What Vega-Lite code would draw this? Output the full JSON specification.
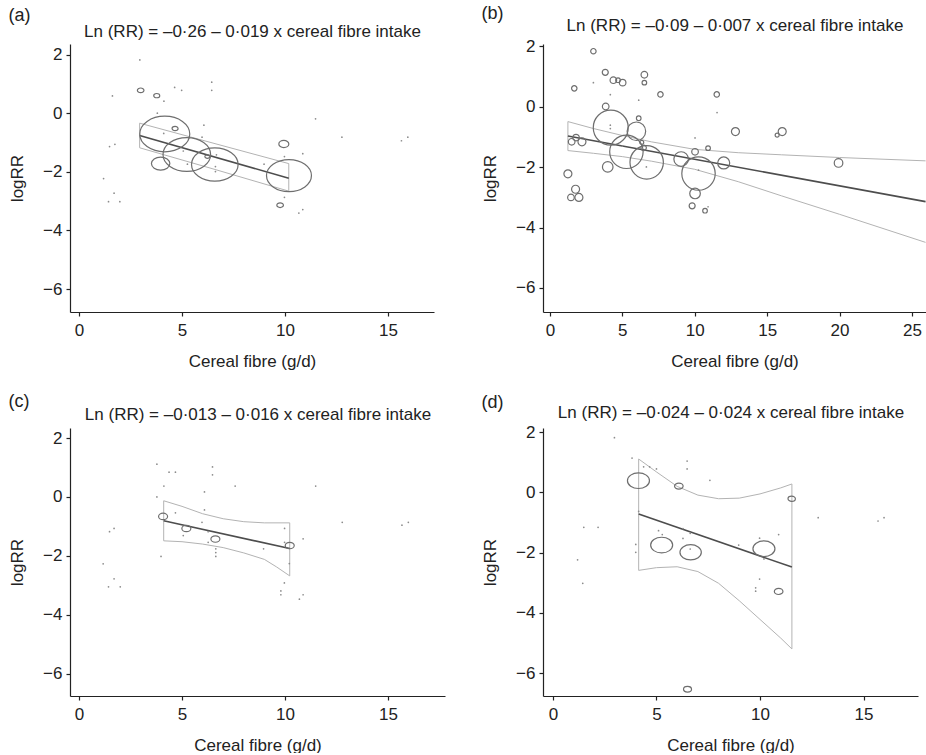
{
  "$schema": "https://vega.github.io/schema/vega-lite/v6.json",
  "background": "white",
  "padding": {"left": 8, "top": 5, "right": 0, "bottom": 0},
  "columns": 2,
  "bounds": "flush",
  "align": "all",
  "spacing": {"row": 116, "column": 90},
  "datasets": {
    "a_pts": [
      {"x": 2.99, "y": 0.78, "w": 0.78}, {"x": 3.77, "y": 0.6, "w": 0.65}, {"x": 4.16, "y": -0.71, "w": 44.9},
      {"x": 4.66, "y": -0.52, "w": 0.65}, {"x": 5.23, "y": -1.41, "w": 40.7}, {"x": 3.96, "y": -1.72, "w": 6.1},
      {"x": 6.23, "y": -1.48, "w": 0.45}, {"x": 6.59, "y": -1.75, "w": 39}, {"x": 10.19, "y": -2.13, "w": 36.3},
      {"x": 9.94, "y": -1.05, "w": 1.8}, {"x": 9.76, "y": -3.14, "w": 0.78}
    ],
    "a_dots": [
      {"x": 2.95, "y": 1.82}, {"x": 1.62, "y": 0.59}, {"x": 4.64, "y": 0.88}, {"x": 4.98, "y": 0.78}, {"x": 6.44, "y": 1.06},
      {"x": 6.44, "y": 0.78}, {"x": 4.12, "y": 0.41}, {"x": 3.8, "y": 0}, {"x": 11.48, "y": -0.19}, {"x": 12.76, "y": -0.82},
      {"x": 15.65, "y": -0.94}, {"x": 15.96, "y": -0.82}, {"x": 1.48, "y": -1.14}, {"x": 1.74, "y": -1.06}, {"x": 1.19, "y": -2.23},
      {"x": 1.7, "y": -2.73}, {"x": 1.43, "y": -3.02}, {"x": 1.98, "y": -3.02}, {"x": 6.06, "y": -0.41}, {"x": 5.97, "y": -0.82},
      {"x": 4.11, "y": -0.69}, {"x": 5.06, "y": -1.29}, {"x": 5.26, "y": -1.74}, {"x": 6.62, "y": -1.82}, {"x": 6.62, "y": -1.99},
      {"x": 6.67, "y": -1.42}, {"x": 8.98, "y": -1.74}, {"x": 9.97, "y": -1.48}, {"x": 10.86, "y": -1.38}, {"x": 9.97, "y": -2.87},
      {"x": 10.86, "y": -3.29}, {"x": 10.67, "y": -3.41}
    ],
    "a_fit": [{"x": 2.94, "y": -0.76}, {"x": 10.18, "y": -2.22}],
    "a_band": [
      {"i": 1, "x": 2.94, "y": -0.34}, {"i": 2, "x": 6.5, "y": -1.02}, {"i": 3, "x": 10.18, "y": -1.72},
      {"i": 4, "x": 10.18, "y": -2.66}, {"i": 5, "x": 6.5, "y": -1.9}, {"i": 6, "x": 2.94, "y": -1.18},
      {"i": 7, "x": 2.94, "y": -0.34}
    ],
    "b_pts": [
      {"x": 3.0, "y": 1.84, "w": 0.73}, {"x": 3.82, "y": 1.14, "w": 0.9}, {"x": 4.38, "y": 0.88, "w": 1.09}, {"x": 4.7, "y": 0.88, "w": 0.53},
      {"x": 5.02, "y": 0.8, "w": 1.09}, {"x": 6.52, "y": 1.06, "w": 1.09}, {"x": 6.52, "y": 0.8, "w": 0.53}, {"x": 7.63, "y": 0.41, "w": 0.73},
      {"x": 11.52, "y": 0.41, "w": 0.73}, {"x": 1.68, "y": 0.61, "w": 0.73}, {"x": 3.85, "y": 0.01, "w": 1.09}, {"x": 4.2, "y": -0.69, "w": 30.6},
      {"x": 5.97, "y": -0.81, "w": 8.6}, {"x": 6.13, "y": -0.38, "w": 0.53}, {"x": 5.28, "y": -1.49, "w": 27.9}, {"x": 6.68, "y": -1.84, "w": 27.9},
      {"x": 6.34, "y": -1.18, "w": 0.4}, {"x": 6.47, "y": -1.36, "w": 0.73}, {"x": 1.8, "y": -1.02, "w": 1.09}, {"x": 1.5, "y": -1.16, "w": 1.09},
      {"x": 2.21, "y": -1.16, "w": 1.6}, {"x": 1.24, "y": -2.22, "w": 1.6}, {"x": 1.77, "y": -2.73, "w": 1.6}, {"x": 1.45, "y": -3.0, "w": 1.09},
      {"x": 2.0, "y": -3.0, "w": 1.6}, {"x": 3.99, "y": -1.99, "w": 2.8}, {"x": 9.06, "y": -1.73, "w": 5.3}, {"x": 10.02, "y": -1.49, "w": 1.09},
      {"x": 10.26, "y": -2.21, "w": 27.9}, {"x": 10.02, "y": -2.87, "w": 2.8}, {"x": 9.82, "y": -3.28, "w": 0.9}, {"x": 10.71, "y": -3.44, "w": 0.53},
      {"x": 10.92, "y": -1.37, "w": 0.53}, {"x": 12.0, "y": -1.86, "w": 3.6}, {"x": 12.81, "y": -0.82, "w": 1.6}, {"x": 15.69, "y": -0.94, "w": 0.4},
      {"x": 16.04, "y": -0.82, "w": 1.6}, {"x": 19.93, "y": -1.86, "w": 1.85}
    ],
    "b_dots": [
      {"x": 3.0, "y": 0.8}, {"x": 4.17, "y": 0.4}, {"x": 6.13, "y": 0.22}, {"x": 11.54, "y": -0.19}, {"x": 4.17, "y": -0.61},
      {"x": 4.17, "y": -0.72}, {"x": 10.02, "y": -1.03}, {"x": 6.66, "y": -1.99}, {"x": 10.26, "y": -2.1}, {"x": 10.92, "y": -3.31},
      {"x": 5.0, "y": -1.3}
    ],
    "b_fit": [{"x": 1.24, "y": -0.97}, {"x": 25.94, "y": -3.14}],
    "b_band": [
      {"i": 1, "x": 25.94, "y": -1.79}, {"i": 2, "x": 20, "y": -1.68}, {"i": 3, "x": 16, "y": -1.59}, {"i": 4, "x": 13, "y": -1.52},
      {"i": 5, "x": 10, "y": -1.41}, {"i": 6, "x": 7, "y": -1.16}, {"i": 7, "x": 5, "y": -0.95}, {"i": 8, "x": 3, "y": -0.72},
      {"i": 9, "x": 1.24, "y": -0.49}, {"i": 10, "x": 1.24, "y": -1.45}, {"i": 11, "x": 3, "y": -1.54}, {"i": 12, "x": 5, "y": -1.65},
      {"i": 13, "x": 7, "y": -1.8}, {"i": 14, "x": 10, "y": -2.07}, {"i": 15, "x": 13, "y": -2.48}, {"i": 16, "x": 16, "y": -2.95},
      {"i": 17, "x": 20, "y": -3.56}, {"i": 18, "x": 25.94, "y": -4.49}
    ],
    "c_pts": [
      {"x": 4.08, "y": -0.66, "w": 1.45}, {"x": 5.21, "y": -1.07, "w": 1.45}, {"x": 6.62, "y": -1.43, "w": 1.45}, {"x": 10.23, "y": -1.65, "w": 1.45}
    ],
    "c_dots": [
      {"x": 3.78, "y": 1.11}, {"x": 4.37, "y": 0.84}, {"x": 4.68, "y": 0.84}, {"x": 6.48, "y": 1.02}, {"x": 6.48, "y": 0.75},
      {"x": 4.12, "y": 0.37}, {"x": 7.58, "y": 0.37}, {"x": 11.49, "y": 0.37}, {"x": 6.09, "y": 0.17}, {"x": 3.78, "y": 0},
      {"x": 6.09, "y": -0.44}, {"x": 4.68, "y": -0.54}, {"x": 5.97, "y": -0.86}, {"x": 12.78, "y": -0.86}, {"x": 15.68, "y": -0.96},
      {"x": 15.99, "y": -0.86}, {"x": 1.48, "y": -1.18}, {"x": 1.7, "y": -1.07}, {"x": 9.98, "y": -1.07}, {"x": 6.27, "y": -1.18},
      {"x": 5.06, "y": -1.31}, {"x": 6.27, "y": -1.54}, {"x": 6.64, "y": -1.76}, {"x": 6.64, "y": -1.89}, {"x": 6.64, "y": -2.02},
      {"x": 8.96, "y": -1.76}, {"x": 10.88, "y": -1.42}, {"x": 9.98, "y": -1.54}, {"x": 3.98, "y": -2.02}, {"x": 1.17, "y": -2.27},
      {"x": 1.7, "y": -2.78}, {"x": 1.43, "y": -3.05}, {"x": 2.0, "y": -3.05}, {"x": 9.97, "y": -2.92}, {"x": 9.8, "y": -3.19},
      {"x": 9.8, "y": -3.32}, {"x": 10.7, "y": -3.47}, {"x": 10.88, "y": -3.32}, {"x": 10.21, "y": -2.26}
    ],
    "c_fit": [{"x": 4.11, "y": -0.81}, {"x": 10.23, "y": -1.75}],
    "c_band": [
      {"i": 1, "x": 4.11, "y": -0.13}, {"i": 2, "x": 5, "y": -0.32}, {"i": 3, "x": 6, "y": -0.57}, {"i": 4, "x": 7, "y": -0.74},
      {"i": 5, "x": 8, "y": -0.84}, {"i": 6, "x": 9, "y": -0.88}, {"i": 7, "x": 10.23, "y": -0.88}, {"i": 8, "x": 10.23, "y": -2.68},
      {"i": 9, "x": 9.6, "y": -2.38}, {"i": 10, "x": 9, "y": -2.12}, {"i": 11, "x": 8, "y": -1.9}, {"i": 12, "x": 7, "y": -1.72},
      {"i": 13, "x": 6, "y": -1.6}, {"i": 14, "x": 5, "y": -1.52}, {"i": 15, "x": 4.11, "y": -1.49}, {"i": 16, "x": 4.11, "y": -0.13}
    ],
    "d_pts": [
      {"x": 4.13, "y": 0.39, "w": 8.7}, {"x": 6.08, "y": 0.21, "w": 1.33}, {"x": 11.53, "y": -0.21, "w": 0.98}, {"x": 5.25, "y": -1.75, "w": 8.7},
      {"x": 6.65, "y": -1.99, "w": 8.2}, {"x": 10.19, "y": -1.87, "w": 8.7}, {"x": 10.9, "y": -3.29, "w": 1.33}, {"x": 6.5, "y": -6.54, "w": 1.15}
    ],
    "d_dots": [
      {"x": 2.97, "y": 1.82}, {"x": 3.82, "y": 1.14}, {"x": 4.38, "y": 0.85}, {"x": 4.67, "y": 0.85}, {"x": 5.0, "y": 0.78},
      {"x": 6.48, "y": 1.04}, {"x": 6.48, "y": 0.78}, {"x": 7.58, "y": 0.4}, {"x": 1.49, "y": -1.16}, {"x": 2.18, "y": -1.16},
      {"x": 1.19, "y": -2.24}, {"x": 1.44, "y": -3.02}, {"x": 12.81, "y": -0.84}, {"x": 15.7, "y": -0.95}, {"x": 15.99, "y": -0.84},
      {"x": 4.14, "y": -0.63}, {"x": 4.0, "y": -1.73}, {"x": 4.0, "y": -1.99}, {"x": 5.1, "y": -1.27}, {"x": 5.28, "y": -1.4},
      {"x": 6.28, "y": -1.2}, {"x": 6.28, "y": -1.53}, {"x": 6.63, "y": -1.36}, {"x": 6.63, "y": -1.88}, {"x": 8.97, "y": -1.75},
      {"x": 9.98, "y": -1.52}, {"x": 10.9, "y": -1.4}, {"x": 9.98, "y": -2.88}, {"x": 9.79, "y": -3.17}, {"x": 9.79, "y": -3.28},
      {"x": 10.19, "y": -2.21}
    ],
    "d_fit": [{"x": 4.14, "y": -0.72}, {"x": 11.54, "y": -2.48}],
    "d_band": [
      {"i": 1, "x": 4.14, "y": 1.11}, {"i": 2, "x": 5, "y": 0.68}, {"i": 3, "x": 6, "y": 0.2}, {"i": 4, "x": 7, "y": -0.09},
      {"i": 5, "x": 8, "y": -0.21}, {"i": 6, "x": 9, "y": -0.19}, {"i": 7, "x": 10, "y": -0.05}, {"i": 8, "x": 11, "y": 0.15},
      {"i": 9, "x": 11.54, "y": 0.28}, {"i": 10, "x": 11.54, "y": -5.2}, {"i": 11, "x": 11, "y": -4.84}, {"i": 12, "x": 10, "y": -4.22},
      {"i": 13, "x": 9, "y": -3.6}, {"i": 14, "x": 8, "y": -3.02}, {"i": 15, "x": 7, "y": -2.63}, {"i": 16, "x": 6, "y": -2.47},
      {"i": 17, "x": 5, "y": -2.5}, {"i": 18, "x": 4.14, "y": -2.59}, {"i": 19, "x": 4.14, "y": 1.11}
    ]
  },
  "concat": [
    {
      "title": {"text": "(a)", "offset": -3},
      "width": 364, "height": 268,
      "resolve": {"axis": {"x": "independent"}},
      "layer": [
        {
          "data": {"name": "a_band"},
          "mark": {"type": "line", "color": "#b3b3b3", "strokeWidth": 1},
          "encoding": {
            "x": {"field": "x", "type": "quantitative", "scale": {"domain": [-0.44, 17.23], "nice": false, "zero": false}, "axis": {"title": "Cereal fibre (g/d)", "values": [0, 5, 10, 15]}},
            "y": {"field": "y", "type": "quantitative", "title": "logRR", "scale": {"domain": [-6.785, 2.362], "nice": false, "zero": false}, "axis": {"values": [-6, -4, -2, 0, 2]}},
            "order": {"field": "i", "type": "quantitative"}
          }
        },
        {
          "data": {"name": "a_fit"},
          "mark": {"type": "line", "color": "#4d4d4d", "strokeWidth": 1.6},
          "encoding": {
            "x": {"field": "x", "type": "quantitative", "axis": {"orient": "top", "title": "Ln (RR) = –0·26 – 0·019 x cereal fibre intake", "domain": false, "ticks": false, "labels": false, "titlePadding": 4}},
            "y": {"field": "y", "type": "quantitative", "title": "logRR"}
          }
        },
        {
          "data": {"name": "a_dots"},
          "mark": {"type": "point", "filled": true, "size": 3, "color": "#8c8c8c", "opacity": 1},
          "encoding": {
            "x": {"field": "x", "type": "quantitative", "axis": null},
            "y": {"field": "y", "type": "quantitative", "title": "logRR"}
          }
        },
        {
          "data": {"name": "a_pts"},
          "mark": {"type": "point", "filled": false, "stroke": "#6e6e6e", "strokeWidth": 1.2, "opacity": 1, "shape": "M-1.18,0C-1.18,-0.464,-0.652,-0.84,0,-0.84C0.652,-0.84,1.18,-0.464,1.18,0C1.18,0.464,0.652,0.84,0,0.84C-0.652,0.84,-1.18,0.464,-1.18,0Z"},
          "encoding": {
            "x": {"field": "x", "type": "quantitative", "axis": null},
            "y": {"field": "y", "type": "quantitative", "title": "logRR"},
            "size": {"field": "w", "type": "quantitative", "scale": {"domain": [0, 100], "range": [0, 4000], "zero": true}, "legend": null}
          }
        }
      ]
    },
    {
      "title": {"text": "(b)", "offset": -7},
      "width": 383, "height": 268,
      "resolve": {"axis": {"x": "independent"}},
      "layer": [
        {
          "data": {"name": "b_band"},
          "mark": {"type": "line", "color": "#b3b3b3", "strokeWidth": 1},
          "encoding": {
            "x": {"field": "x", "type": "quantitative", "scale": {"domain": [-0.48, 25.97], "nice": false, "zero": false}, "axis": {"title": "Cereal fibre (g/d)", "values": [0, 5, 10, 15, 20, 25]}},
            "y": {"field": "y", "type": "quantitative", "title": "logRR", "scale": {"domain": [-6.795, 2.079], "nice": false, "zero": false}, "axis": {"values": [-6, -4, -2, 0, 2]}},
            "order": {"field": "i", "type": "quantitative"}
          }
        },
        {
          "data": {"name": "b_fit"},
          "mark": {"type": "line", "color": "#4d4d4d", "strokeWidth": 1.6},
          "encoding": {
            "x": {"field": "x", "type": "quantitative", "axis": {"orient": "top", "title": "Ln (RR) = –0·09 – 0·007 x cereal fibre intake", "domain": false, "ticks": false, "labels": false, "titlePadding": 10}},
            "y": {"field": "y", "type": "quantitative", "title": "logRR"}
          }
        },
        {
          "data": {"name": "b_dots"},
          "mark": {"type": "point", "filled": true, "size": 3, "color": "#8c8c8c", "opacity": 1},
          "encoding": {
            "x": {"field": "x", "type": "quantitative", "axis": null},
            "y": {"field": "y", "type": "quantitative", "title": "logRR"}
          }
        },
        {
          "data": {"name": "b_pts"},
          "mark": {"type": "point", "filled": false, "stroke": "#6e6e6e", "strokeWidth": 1.2, "opacity": 1, "shape": "circle"},
          "encoding": {
            "x": {"field": "x", "type": "quantitative", "axis": null},
            "y": {"field": "y", "type": "quantitative", "title": "logRR"},
            "size": {"field": "w", "type": "quantitative", "scale": {"domain": [0, 100], "range": [0, 4000], "zero": true}, "legend": null}
          }
        }
      ]
    },
    {
      "title": {"text": "(c)", "offset": -6},
      "width": 375, "height": 268,
      "resolve": {"axis": {"x": "independent"}},
      "layer": [
        {
          "data": {"name": "c_band"},
          "mark": {"type": "line", "color": "#b3b3b3", "strokeWidth": 1},
          "encoding": {
            "x": {"field": "x", "type": "quantitative", "scale": {"domain": [-0.44, 17.77], "nice": false, "zero": false}, "axis": {"title": "Cereal fibre (g/d)", "values": [0, 5, 10, 15]}},
            "y": {"field": "y", "type": "quantitative", "title": "logRR", "scale": {"domain": [-6.757, 2.34], "nice": false, "zero": false}, "axis": {"values": [-6, -4, -2, 0, 2]}},
            "order": {"field": "i", "type": "quantitative"}
          }
        },
        {
          "data": {"name": "c_fit"},
          "mark": {"type": "line", "color": "#4d4d4d", "strokeWidth": 1.6},
          "encoding": {
            "x": {"field": "x", "type": "quantitative", "axis": {"orient": "top", "title": "Ln (RR) = –0·013 – 0·016 x cereal fibre intake", "domain": false, "ticks": false, "labels": false, "titlePadding": 5}},
            "y": {"field": "y", "type": "quantitative", "title": "logRR"}
          }
        },
        {
          "data": {"name": "c_dots"},
          "mark": {"type": "point", "filled": true, "size": 3, "color": "#8c8c8c", "opacity": 1},
          "encoding": {
            "x": {"field": "x", "type": "quantitative", "axis": null},
            "y": {"field": "y", "type": "quantitative", "title": "logRR"}
          }
        },
        {
          "data": {"name": "c_pts"},
          "mark": {"type": "point", "filled": false, "stroke": "#6e6e6e", "strokeWidth": 1.2, "opacity": 1, "shape": "M-1.18,0C-1.18,-0.464,-0.652,-0.84,0,-0.84C0.652,-0.84,1.18,-0.464,1.18,0C1.18,0.464,0.652,0.84,0,0.84C-0.652,0.84,-1.18,0.464,-1.18,0Z"},
          "encoding": {
            "x": {"field": "x", "type": "quantitative", "axis": null},
            "y": {"field": "y", "type": "quantitative", "title": "logRR"},
            "size": {"field": "w", "type": "quantitative", "scale": {"domain": [0, 100], "range": [0, 4000], "zero": true}, "legend": null}
          }
        }
      ]
    },
    {
      "title": {"text": "(d)", "offset": -9},
      "width": 375, "height": 268,
      "resolve": {"axis": {"x": "independent"}},
      "layer": [
        {
          "data": {"name": "d_band"},
          "mark": {"type": "line", "color": "#b3b3b3", "strokeWidth": 1},
          "encoding": {
            "x": {"field": "x", "type": "quantitative", "scale": {"domain": [-0.48, 17.63], "nice": false, "zero": false}, "axis": {"title": "Cereal fibre (g/d)", "values": [0, 5, 10, 15]}},
            "y": {"field": "y", "type": "quantitative", "title": "logRR", "scale": {"domain": [-6.764, 2.14], "nice": false, "zero": false}, "axis": {"values": [-6, -4, -2, 0, 2]}},
            "order": {"field": "i", "type": "quantitative"}
          }
        },
        {
          "data": {"name": "d_fit"},
          "mark": {"type": "line", "color": "#4d4d4d", "strokeWidth": 1.6},
          "encoding": {
            "x": {"field": "x", "type": "quantitative", "axis": {"orient": "top", "title": "Ln (RR) = –0·024 – 0·024 x cereal fibre intake", "domain": false, "ticks": false, "labels": false, "titlePadding": 7}},
            "y": {"field": "y", "type": "quantitative", "title": "logRR"}
          }
        },
        {
          "data": {"name": "d_dots"},
          "mark": {"type": "point", "filled": true, "size": 3, "color": "#8c8c8c", "opacity": 1},
          "encoding": {
            "x": {"field": "x", "type": "quantitative", "axis": null},
            "y": {"field": "y", "type": "quantitative", "title": "logRR"}
          }
        },
        {
          "data": {"name": "d_pts"},
          "mark": {"type": "point", "filled": false, "stroke": "#6e6e6e", "strokeWidth": 1.2, "opacity": 1, "shape": "M-1.18,0C-1.18,-0.464,-0.652,-0.84,0,-0.84C0.652,-0.84,1.18,-0.464,1.18,0C1.18,0.464,0.652,0.84,0,0.84C-0.652,0.84,-1.18,0.464,-1.18,0Z"},
          "encoding": {
            "x": {"field": "x", "type": "quantitative", "axis": null},
            "y": {"field": "y", "type": "quantitative", "title": "logRR"},
            "size": {"field": "w", "type": "quantitative", "scale": {"domain": [0, 100], "range": [0, 4000], "zero": true}, "legend": null}
          }
        }
      ]
    }
  ],
  "config": {
    "font": "Liberation Sans",
    "view": {"stroke": null},
    "title": {"anchor": "start", "frame": "bounds", "fontSize": 18, "fontWeight": "normal", "color": "#222222"},
    "axis": {
      "grid": false,
      "domainColor": "#222222", "domainWidth": 1.2,
      "tickColor": "#222222", "tickWidth": 1.2, "tickSize": 4,
      "labelFontSize": 17, "labelColor": "#222222", "labelPadding": 4,
      "titleFontSize": 17, "titleFontWeight": "normal", "titleColor": "#222222"
    },
    "axisY": {"titlePadding": 16},
    "axisBottom": {"titlePadding": 15, "labelPadding": 6}
  }
}
